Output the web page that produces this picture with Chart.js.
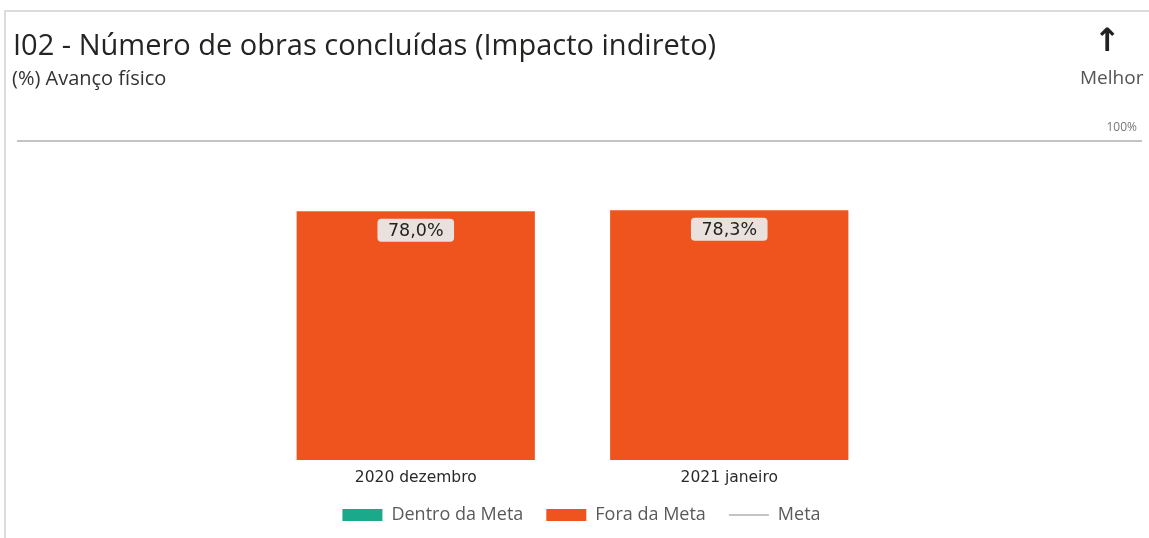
<!DOCTYPE html>
<html>
<head>
<meta charset="utf-8">
<script src="https://cdn.jsdelivr.net/npm/chart.js@4.4.1/dist/chart.umd.min.js"></script>
<style>
  html,body{margin:0;padding:0;background:#fff;}
  #wrap{position:relative;width:1149px;height:538px;overflow:hidden;}
  #frame{position:absolute;left:4px;top:10px;width:1160px;height:540px;border-top:2px solid #dcdcdc;border-left:2px solid #dcdcdc;}
  canvas{position:absolute;left:0;top:0;}
  .txt{position:absolute;font-family:"Open Sans",sans-serif;white-space:nowrap;line-height:normal;}
  #title{left:13px;top:24px;font-size:29px;color:#252423;}
  #sub{left:12px;top:64px;font-size:20px;color:#333;}
  #arrow{left:1094px;top:21px;font-size:32px;color:#222;font-family:"DejaVu Sans",sans-serif;font-weight:bold;}
  #melhor{left:1080px;top:64px;font-size:19px;color:#555;}
</style>
</head>
<body>
<div id="wrap">
  <div id="frame"></div>
  <canvas id="c" width="1149" height="538"></canvas>
  <div class="txt" id="title">I02 - Número de obras concluídas (Impacto indireto)</div>
  <div class="txt" id="sub">(%) Avanço físico</div>
  <div class="txt" id="arrow">↑</div>
  <div class="txt" id="melhor">Melhor</div>
</div>
<script>
// data
const categories = ['2020 dezembro', '2021 janeiro'];
const dentroMeta = [null, null];
const foraMeta = [78.0, 78.3];
const meta = 100;
const valueLabels = ['78,0%', '78,3%'];

const TEAL = '#1aa98a', ORANGE = '#f0541e', GRAY = '#c4c4c4';

// meta line across the card + 100% label
const metaLine = {
  id: 'metaLine',
  beforeDatasetsDraw(chart){
    const {ctx} = chart; const y = chart.scales.y.getPixelForValue(meta);
    ctx.save();
    ctx.strokeStyle = GRAY; ctx.lineWidth = 2;
    ctx.beginPath(); ctx.moveTo(17, y); ctx.lineTo(1142, y); ctx.stroke();
    ctx.fillStyle = '#777'; ctx.font = '12px "Open Sans"'; ctx.textAlign = 'right'; ctx.textBaseline = 'bottom';
    ctx.fillText(meta + '%', 1137, y - 7);
    ctx.restore();
  }
};

// value boxes on top of bars
const valueBoxes = {
  id: 'valueBoxes',
  afterDatasetsDraw(chart){
    const {ctx} = chart; const m = chart.getDatasetMeta(1);
    ctx.save();
    ctx.font = '17.5px "DejaVu Sans"'; ctx.textAlign = 'center'; ctx.textBaseline = 'middle';
    m.data.forEach((bar, i) => {
      const t = valueLabels[i]; const w = ctx.measureText(t).width + 21, h = 23;
      const cx = bar.x, cy = bar.y + 19;
      ctx.fillStyle = '#e9e1dd';
      ctx.beginPath(); ctx.roundRect(cx - w/2, cy - h/2, w, h, 4); ctx.fill();
      ctx.fillStyle = '#222'; ctx.fillText(t, cx, cy + 1);
    });
    ctx.restore();
  }
};

// nudge the legend box (wide item spacing without the extra height)
const legendNudge = {
  id: 'legendNudge',
  afterLayout(chart){
    const l = chart.legend; if(!l) return;
    l.left += 9; l.right += 9; l.top -= 13; l.bottom -= 13;
  }
};

new Chart(document.getElementById('c'), {
  type: 'bar',
  data: {
    labels: categories,
    datasets: [
      {label: 'Dentro da Meta', data: dentroMeta, backgroundColor: TEAL},
      {label: 'Fora da Meta', data: foraMeta, backgroundColor: ORANGE},
      {label: 'Meta', type: 'line', data: [], borderColor: GRAY}
    ]
  },
  options: {
    responsive: false, animation: false,
    layout: {padding: {left: 259, right: 263, top: 141, bottom: -9}},
    datasets: {bar: {barPercentage: 0.76, categoryPercentage: 1}},
    scales: {
      x: {stacked: true, grid: {display: false, drawTicks: false}, border: {display: false},
          ticks: {color: '#2a2a2a', font: {family: '"DejaVu Sans"', size: 15.5, lineHeight: '2px'}, padding: 17}},
      y: {stacked: true, min: 0, max: 100, display: false}
    },
    plugins: {
      tooltip: {enabled: false},
      legend: {
        position: 'bottom',
        labels: {
          usePointStyle: true, pointStyleWidth: 40, boxHeight: 12, padding: 23,
          color: '#5a5a5a', font: {family: '"Open Sans"', size: 18},
          generateLabels(chart){
            return chart.data.datasets.map((d, i) => ({
              text: d.label, datasetIndex: i,
              fillStyle: d.type === 'line' ? 'transparent' : d.backgroundColor,
              strokeStyle: d.type === 'line' ? GRAY : d.backgroundColor,
              lineWidth: d.type === 'line' ? 2 : 0,
              pointStyle: d.type === 'line' ? 'line' : 'rect',
              fontColor: '#5a5a5a'
            }));
          }
        }
      }
    }
  },
  plugins: [metaLine, valueBoxes, legendNudge]
});
</script>
</body>
</html>
